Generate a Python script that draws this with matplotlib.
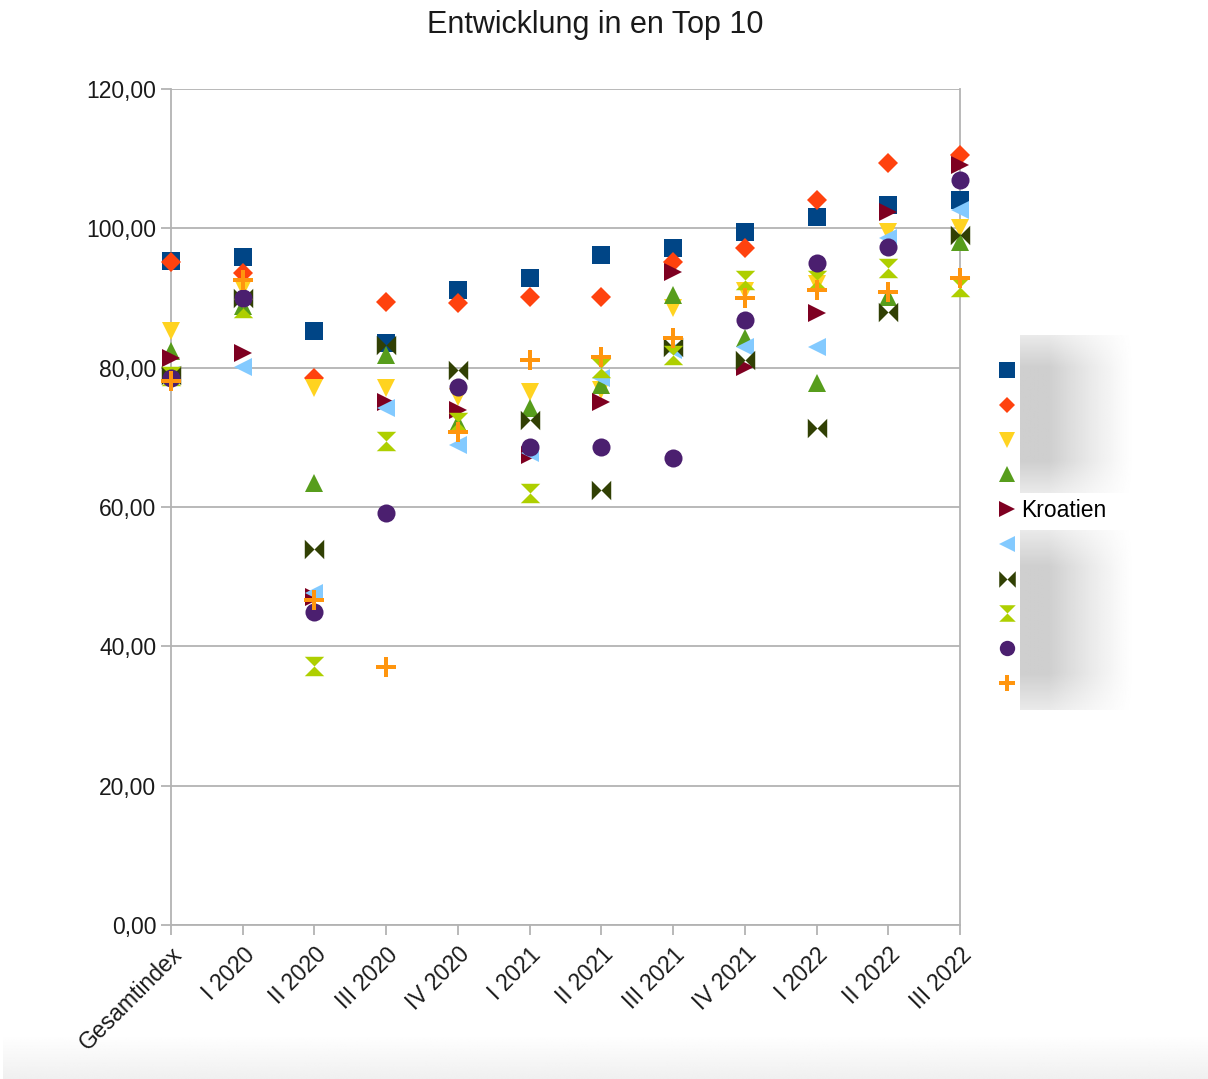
import matplotlib
matplotlib.use('Agg')
import matplotlib.pyplot as plt
import numpy as np
from matplotlib.lines import Line2D

plt.rcParams['font.family'] = ['Liberation Sans', 'DejaVu Sans']

# Kategorien
quartale = ["Gesamtindex", "I 2020", "II 2020", "III 2020", "IV 2020", "I 2021",
            "II 2021", "III 2021", "IV 2021", "I 2022", "II 2022", "III 2022"]

# Werte je Land
land1 = [95.3, 95.9, 85.3, 83.5, 91.1, 92.9, 96.2, 97.2, 99.5, 101.6, 103.3, 104.1]
land2 = [95.2, 93.6, 78.5, 89.4, 89.3, 90.1, 90.1, 95.2, 97.2, 104.1, 109.4, 110.5]
land3 = [85.3, 91.4, 77.1, 77.1, 75.8, 76.5, 76.8, 88.6, 91.0, 92.0, 99.5, 100.0]
land4 = [82.4, 88.8, 63.4, 81.8, 72.0, 74.2, 77.5, 90.4, 84.3, 77.8, 90.1, 98.0]
kroatien = [81.4, 82.1, 47.1, 75.1, 73.9, 67.5, 75.1, 93.7, 80.1, 87.8, 102.3, 109.1]
land6 = [79.0, 80.1, 47.6, 74.2, 68.9, 67.7, 78.5, 82.5, 83.0, 83.0, 98.6, 102.6]
land7 = [79.0, 90.0, 54.0, 83.2, 79.7, 72.5, 62.4, 83.0, 81.1, 71.3, 88.0, 99.0]
land8 = [78.8, 88.5, 37.2, 69.5, 72.2, 62.0, 80.0, 81.8, 92.6, 92.6, 94.3, 91.6]
land9 = [78.5, 90.0, 44.9, 59.1, 77.2, 68.6, 68.6, 67.0, 86.8, 95.0, 97.3, 106.9]
land10 = [78.1, 92.6, 46.6, 37.0, 70.8, 81.1, 81.5, 84.3, 90.0, 91.1, 90.9, 92.9]

namen = ["", "", "", "", "Kroatien", "", "", "", "", ""]
farben = ["#004586", "#ff420e", "#ffd320", "#579d1c", "#7e0021",
          "#83caff", "#314004", "#aecf00", "#4b1f6f", "#ff950e"]

bowtie = [(-1, -1), (-1, 1), (0, 0), (1, 1), (1, -1), (0, 0), (-1, -1)]
hourglass = [(-1, 1), (1, 1), (0, 0), (1, -1), (-1, -1), (0, 0), (-1, 1)]
a = 0.2
plus = [(-a, 1), (a, 1), (a, a), (1, a), (1, -a), (a, -a), (a, -1),
        (-a, -1), (-a, -a), (-1, -a), (-1, a), (-a, a), (-a, 1)]
marker = ['s', 'D', 'v', '^', '>', '<', bowtie, hourglass, 'o', plus]
groesse = [13, 10, 13, 13, 13, 13, 14, 14, 13, 14]

daten = [land1, land2, land3, land4, kroatien, land6, land7, land8, land9, land10]

fig = plt.figure(figsize=(12.08, 10.79), dpi=100)

# grauer Verlauf am unteren Rand
ux = fig.add_axes([3/1208, 0, 1205/1208, 45/1079])
uz = np.linspace(0.94, 1.0, 50)[:, None] * np.ones((1, 10))
ux.imshow(uz, cmap='gray', vmin=0, vmax=1, aspect='auto', extent=(0, 1, 0, 1), origin='lower')
ux.axis('off')

ax = fig.add_axes([171/1208, 1 - 925/1079, (960-171)/1208, (925-89)/1079])

x = np.arange(len(quartale))
for werte, f, m, g in zip(daten, farben, marker, groesse):
    ax.plot(x, werte, linestyle='none', marker=m, color=f, markersize=g,
            markeredgewidth=0, clip_on=False, zorder=3)

ax.set_xlim(0, len(quartale) - 1)
ax.set_ylim(0, 120)
ax.set_yticks(np.arange(0, 121, 20))
ax.set_yticklabels([f"{v:.2f}".replace('.', ',') for v in np.arange(0, 121, 20)])
ax.set_xticks(x)
ax.set_xticklabels(quartale, rotation=45, ha='right', rotation_mode='anchor')
ax.tick_params(axis='both', colors='#b3b3b3', labelcolor='#1a1a1a', labelsize=16.5,
               length=7, width=1.3)
ax.tick_params(axis='x', pad=6)
ax.yaxis.grid(True, color='#b3b3b3', linewidth=1.3)
ax.set_axisbelow(True)
for s in ax.spines.values():
    s.set_color('#b3b3b3')
    s.set_linewidth(1.3)
ax.spines['top'].set_visible(False)

fig.text(595/1208, 1 - 25/1079, "Entwicklung in en Top 10", ha='center', va='center',
         fontsize=22, color='#1a1a1a')

handles = [Line2D([], [], linestyle='none', marker=m, color=f, markersize=g * 0.85,
                  markeredgewidth=0) for f, m, g in zip(farben, marker, groesse)]
ax.legend(handles, namen, loc='upper left', bbox_to_anchor=(989/1208, 1 - 349/1079),
          bbox_transform=fig.transFigure, frameon=False, fontsize=16.5,
          handlelength=0.6, handletextpad=0.3, labelspacing=0.51, borderpad=0)

# verwischte Legendentexte
for y0, y1 in [(335, 493), (530, 710)]:
    bx = fig.add_axes([1020/1208, 1 - y1/1079, 115/1208, (y1-y0)/1079])
    gx = np.linspace(0, 1, 120)
    gy = np.linspace(0, 1, 80)
    fx = np.clip((1 - gx) / 0.75, 0, 1) ** 1.2
    fy = np.clip(gy / 0.2, 0, 1) * np.clip((1 - gy) / 0.2, 0, 1)
    z = 1 - 0.19 * fx[None, :] * (0.45 + 0.55 * fy[:, None])
    bx.imshow(z, cmap='gray', vmin=0, vmax=1, aspect='auto', extent=(0, 1, 0, 1))
    bx.axis('off')

plt.savefig('out.png')
